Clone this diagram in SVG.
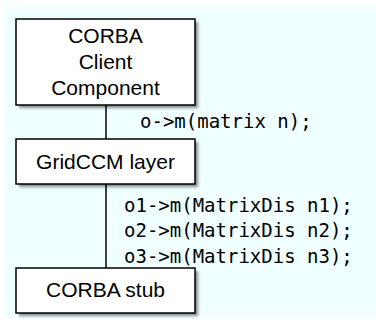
<svg xmlns="http://www.w3.org/2000/svg" width="376" height="322" viewBox="0 0 376 322">
<style>
.box{fill:#ffffff;stroke:#000000;stroke-width:1.5}
.shadow{fill:#000000;opacity:0.45}
.lbl{font-family:"Liberation Sans",Arial,sans-serif;font-size:21px;fill:#000000;text-anchor:middle}
.code{font-family:"DejaVu Sans Mono",monospace;font-size:19px;fill:#000000}
.conn{stroke:#000000;stroke-width:1.5;fill:none}
</style>
<defs>
<filter id="blur" x="-10%" y="-10%" width="130%" height="130%"><feGaussianBlur stdDeviation="1.5"/></filter>
</defs>
<rect x="0" y="0" width="376" height="322" fill="#ffffff"/>
<rect x="4" y="7" width="372" height="311" fill="#f0ffff"/>
<g id="connectors">
<line class="conn" x1="106" y1="105" x2="106" y2="139"/>
<line class="conn" x1="106" y1="184" x2="106" y2="268"/>
</g>
<g id="client">
<rect class="shadow" x="19" y="22" width="179" height="86" filter="url(#blur)"/>
<rect class="box" x="16" y="19" width="179" height="86"/>
<text class="lbl" x="105.5" y="43">CORBA</text>
<text class="lbl" x="105.5" y="69">Client</text>
<text class="lbl" x="105.5" y="95">Component</text>
</g>
<g id="gridccm">
<rect class="shadow" x="19" y="142" width="179" height="45" filter="url(#blur)"/>
<rect class="box" x="16" y="139" width="179" height="45"/>
<text class="lbl" x="105.5" y="169">GridCCM layer</text>
</g>
<g id="stub">
<rect class="shadow" x="19" y="271" width="179" height="45" filter="url(#blur)"/>
<rect class="box" x="16" y="268" width="179" height="45"/>
<text class="lbl" x="105.5" y="297">CORBA stub</text>
</g>
<g id="labels">
<text class="code" x="140" y="128">o-&gt;m(matrix n);</text>
<text class="code" x="124" y="212">o1-&gt;m(MatrixDis n1);</text>
<text class="code" x="124" y="237">o2-&gt;m(MatrixDis n2);</text>
<text class="code" x="124" y="263">o3-&gt;m(MatrixDis n3);</text>
</g>
</svg>
